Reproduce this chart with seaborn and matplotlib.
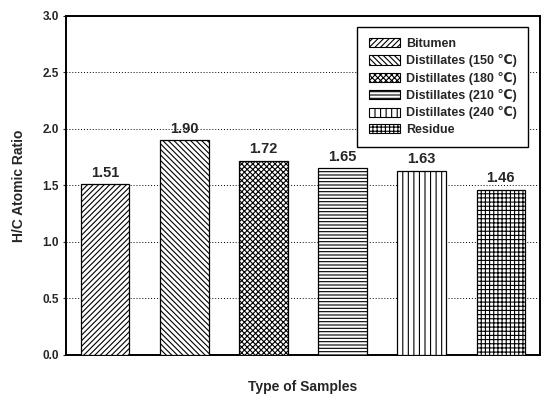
import matplotlib
matplotlib.use("Agg")
import matplotlib.pyplot as plt
import seaborn as sns
import pandas as pd
from matplotlib.patches import Patch

## DATA
samples = ["Bitumen", "Distillates (150 \u2103)", "Distillates (180 \u2103)",
           "Distillates (210 \u2103)", "Distillates (240 \u2103)", "Residue"]
hc_ratio = [1.51, 1.90, 1.72, 1.65, 1.63, 1.46]
hatches = ["//////", "\\\\\\\\\\\\", "xxxxxx", "-----", "|||", "++++"]
y_ticks = [0.0, 0.5, 1.0, 1.5, 2.0, 2.5, 3.0]

df = pd.DataFrame({"sample": samples, "ratio": hc_ratio})

## VISUALIZATION
sns.set_style("white")
plt.rcParams['font.family'] = ['Liberation Sans', 'DejaVu Sans']
plt.rcParams['font.weight'] = 'bold'
plt.rcParams['hatch.linewidth'] = 0.8

fig, ax = plt.subplots(figsize=(5.44, 3.97), dpi=100)
fig.subplots_adjust(left=0.121, right=0.993, top=0.960, bottom=0.106)

sns.barplot(data=df, x="sample", y="ratio", hue="sample", order=samples, hue_order=samples,
            palette=["white"] * len(samples), edgecolor="black", linewidth=0.9,
            width=0.61, legend=False, ax=ax, zorder=3)

for bar, h in zip(ax.patches, hatches):
    bar.set_hatch(h)
    bar.set_edgecolor("black")

# value labels
for i, v in enumerate(hc_ratio):
    ax.text(i, v + 0.04, f"{v:.2f}", ha="center", va="bottom", fontsize=10.5, fontweight="bold")

ax.set_xlim(-0.5, len(samples) - 0.5)
ax.set_ylim(0, 3.0)
ax.set_yticks(y_ticks)
ax.set_yticklabels([f"{t:.1f}" for t in y_ticks], fontsize=8.5, fontweight="bold")
ax.set_xticks([])
ax.yaxis.grid(True, linestyle=(0, (1, 2)), color="black", linewidth=0.7, zorder=0)
ax.set_axisbelow(True)
ax.tick_params(axis="y", length=2, direction="out", left=True, pad=3)

for s in ax.spines.values():
    s.set_linewidth(1.4)
    s.set_color("black")

ax.set_xlabel("Type of Samples", fontsize=10, fontweight="bold", labelpad=18)
ax.set_ylabel("H/C Atomic Ratio", fontsize=10, fontweight="bold", labelpad=12)

# legend with hatched patches
handles = [Patch(facecolor="white", edgecolor="black", hatch=h, linewidth=0.8) for h in hatches]
leg = ax.legend(handles, samples, loc="upper right", bbox_to_anchor=(0.975, 0.968),
                borderaxespad=0, fancybox=False, framealpha=1, edgecolor="black",
                prop={"size": 9, "weight": "bold"}, handlelength=2.5, handleheight=0.75,
                labelspacing=0.35, borderpad=0.9, handletextpad=0.5)
leg.get_frame().set_linewidth(1.0)
leg.set_zorder(5)

plt.savefig("out.png", dpi=100)
